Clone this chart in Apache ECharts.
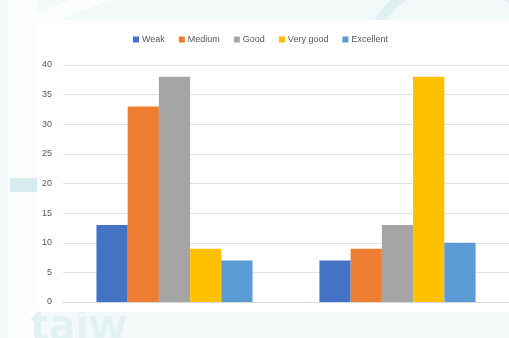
<!DOCTYPE html>
<html>
<head>
<meta charset="utf-8">
<script src="https://cdn.jsdelivr.net/npm/echarts@6/dist/echarts.min.js"></script>
<style>
html,body{margin:0;padding:0;background:#fff;}
#chart{width:509px;height:338px;}
</style>
</head>
<body>
<div id="chart"></div>
<script>
// Two groups of ratings, five rating levels each
const categories = ['', ''];
const seriesNames = ['Weak', 'Medium', 'Good', 'Very good', 'Excellent'];
const weak = [13, 7];
const medium = [33, 9];
const good = [38, 13];
const veryGood = [9, 38];
const excellent = [7, 10];
const yTicks = [0, 5, 10, 15, 20, 25, 30, 35, 40];

const colors = ['#4472c4', '#ed7d31', '#a5a5a5', '#ffc000', '#5b9bd5'];
const values = [weak, medium, good, veryGood, excellent];

const chart = echarts.init(document.getElementById('chart'), null, {renderer: 'canvas'});

chart.setOption({
  backgroundColor: '#f3f9f9',
  animation: false,
  color: colors,
  graphic: [
    // faint background decoration behind the white chart panel
    {type: 'circle', z: -10, shape: {cx: 40, cy: 150, r: 30}, style: {fill: '#e0f1f1'}},
    {type: 'rect', z: -10, shape: {x: 8, y: 0, width: 30, height: 338}, style: {fill: '#fbfdfd'}},
    {type: 'rect', z: -10, shape: {x: 10, y: 178, width: 27, height: 14}, style: {fill: '#d6eced'}},
    {type: 'polygon', z: -10, shape: {points: [[70, 0], [110, 0], [60, 20], [20, 20]]}, style: {fill: '#ffffff', opacity: 0.7}},
    {type: 'circle', z: -10, shape: {cx: 455, cy: 70, r: 90}, style: {fill: 'none', stroke: '#dff0f0', lineWidth: 10}},
    {type: 'text', z: -10, left: 30, top: 306, style: {text: 'taiw', font: 'bold 44px "Open Sans", sans-serif', fill: '#e2f1f1'}},
    {type: 'rect', z: -5, shape: {x: 37, y: 20, width: 472, height: 292}, style: {fill: '#ffffff'}}
  ],
  legend: {
    top: 30,
    left: 128,
    itemWidth: 6,
    itemHeight: 6,
    itemGap: 14,
    icon: 'rect',
    textStyle: {color: '#595959', fontSize: 9, fontFamily: 'Liberation Sans, sans-serif', padding: [0, 0, 0, -2]},
    data: seriesNames
  },
  grid: {left: 63, right: -6, top: 65, bottom: 36, containLabel: false},
  xAxis: {
    type: 'category',
    z: 2,
    data: categories,
    axisLine: {show: true, lineStyle: {color: '#d9d9d9'}},
    axisTick: {show: false},
    axisLabel: {show: false}
  },
  yAxis: {
    type: 'value',
    z: 2,
    min: 0,
    max: yTicks[yTicks.length - 1],
    interval: yTicks[1] - yTicks[0],
    axisLine: {show: false},
    axisTick: {show: false},
    axisLabel: {color: '#595959', fontSize: 9, margin: 11, fontFamily: 'Liberation Sans, sans-serif'},
    splitLine: {lineStyle: {color: '#e3e3e3'}}
  },
  series: seriesNames.map((name, i) => ({
    name: name,
    type: 'bar',
    data: values[i],
    barGap: '0%',
    barCategoryGap: '30%',
    z: 3
  }))
});
</script>
</body>
</html>
